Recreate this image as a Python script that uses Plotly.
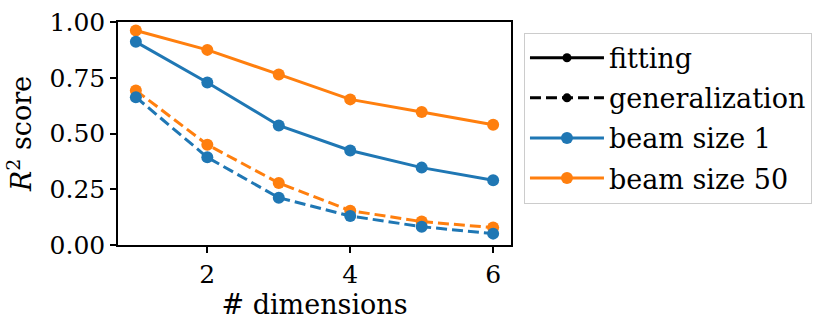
import plotly.graph_objects as go

dims = [1, 2, 3, 4, 5, 6]

# R^2 scores
fit_beam1 = [0.911, 0.729, 0.536, 0.424, 0.347, 0.290]
fit_beam50 = [0.962, 0.875, 0.765, 0.653, 0.596, 0.539]
gen_beam1 = [0.663, 0.393, 0.212, 0.130, 0.082, 0.051]
gen_beam50 = [0.693, 0.450, 0.278, 0.154, 0.105, 0.078]

y_ticks = [0.0, 0.25, 0.5, 0.75, 1.0]
x_ticks = [2, 4, 6]

BLUE = '#1f77b4'
ORANGE = '#ff7f0e'
FONT = 'DejaVu Serif'
DASH = '11px,5px'

fig = go.Figure()

series = [
    (fit_beam50, ORANGE, 'solid'),
    (fit_beam1, BLUE, 'solid'),
    (gen_beam50, ORANGE, DASH),
    (gen_beam1, BLUE, DASH),
]
for vals, color, dash in series:
    fig.add_trace(go.Scatter(
        x=dims, y=vals, mode='lines+markers',
        line=dict(color=color, width=3, dash=dash),
        marker=dict(color=color, size=12),
        showlegend=False,
    ))

# legend-only entries (style + colour keys)
legend_items = [
    ('fitting', 'black', 'solid', 9),
    ('generalization', 'black', DASH, 9),
    ('beam size 1', BLUE, 'solid', 12),
    ('beam size 50', ORANGE, 'solid', 12),
]
for name, color, dash, msize in legend_items:
    fig.add_trace(go.Scatter(
        x=[None], y=[None], mode='lines+markers', name=name,
        legendgroup=name,
        line=dict(color=color, width=3, dash=dash),
        marker=dict(color=color, size=msize),
    ))

fig.update_layout(
    width=830, height=329,
    margin=dict(l=118, r=319, t=22, b=84),
    plot_bgcolor='white', paper_bgcolor='white',
    font=dict(family=FONT, size=25, color='black'),
    showlegend=True,
    legend=dict(
        x=1.033, y=0.952, xanchor='left', yanchor='top',
        bordercolor='#cccccc', borderwidth=1, bgcolor='white',
        font=dict(family=FONT, size=27),
        tracegroupgap=2, itemwidth=74,
    ),
)
fig.update_xaxes(
    range=[0.75, 6.25], tickvals=x_ticks, automargin=False,
    showline=True, linecolor='black', linewidth=1.5, mirror=True,
    ticks='outside', ticklen=6, tickwidth=1.5, tickcolor='black',
    showgrid=False, zeroline=False,
    title=dict(text='# dimensions', standoff=1, font=dict(size=27)),
)
fig.update_yaxes(
    range=[0, 1], tickvals=y_ticks, tickformat='.2f', automargin=False,
    showline=True, linecolor='black', linewidth=1.5, mirror=True,
    ticks='outside', ticklen=6, tickwidth=1.5, tickcolor='black',
    showgrid=False, zeroline=False,
    title=dict(text='<i>R</i><sup>2</sup> score', standoff=10, font=dict(size=27)),
)

# drop the browser's default page margin so the figure sits at 0,0
fig.write_html('out.html', config={'displayModeBar': False},
               post_script="document.body.style.margin='0';")
